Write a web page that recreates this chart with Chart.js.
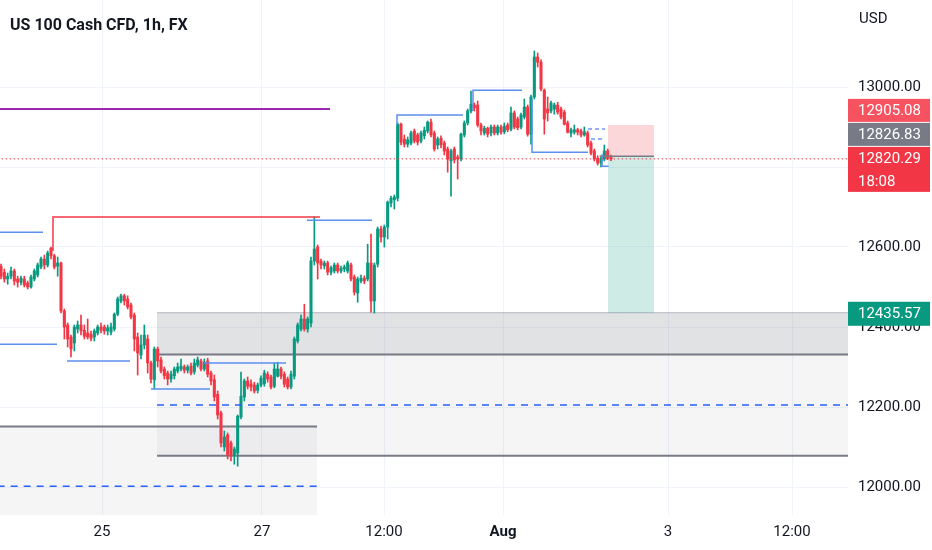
<!DOCTYPE html>
<html><head><meta charset="utf-8">
<script src="https://cdn.jsdelivr.net/npm/chart.js@4.4.1/dist/chart.umd.min.js"></script>
<style>
html,body{margin:0;padding:0;background:#fff;}
#wrap{position:relative;width:932px;height:550px;overflow:hidden;}
#title{position:absolute;left:10px;top:15px;font:bold 16px Roboto, sans-serif;color:#131722;white-space:nowrap;}
#usd{position:absolute;left:859px;top:9px;font:15px Roboto, sans-serif;color:#131722;}
</style></head><body>
<div id="wrap"><canvas id="c"></canvas><div id="title">US 100 Cash CFD, 1h, FX</div><div id="usd">USD</div></div>
<script>
// ---- candle data (hourly bars, index = bar number) ----
const opens = [
12552,12537,12520,12527,12540,12520,12512,12520,12510,12500,
12520,12530,12550,12570,12555,12597,12578,12552,12560,12440,
12405,12375,12360,12395,12405,12392,12385,12382,12375,12385,
12400,12400,12390,12387,12395,12432,12465,12478,12470,12455,
12430,12375,12330,12355,12370,12310,12268,12345,12318,12295,
12285,12270,12278,12290,12295,12300,12292,12302,12288,12305,
12315,12295,12315,12285,12268,12232,12185,12100,12130,12110,
12080,12085,12175,12225,12265,12258,12255,12242,12255,12258,
12282,12275,12252,12277,12295,12282,12270,12250,12277,12365,
12395,12420,12395,12410,12565,12600,12565,12553,12560,12537,
12540,12555,12540,12545,12540,12555,12525,12485,12515,12522,
12520,12560,12465,12557,12645,12625,12650,12710,12718,12722,
12907,12870,12857,12860,12890,12880,12865,12878,12890,12912,
12885,12855,12872,12860,12845,12815,12845,12825,12820,12880,
12910,12940,12955,12955,12905,12885,12897,12885,12900,12885,
12900,12888,12905,12895,12935,12920,12900,12925,12950,12882,
12975,13075,13062,12992,12945,12940,12945,12955,12945,12937,
12910,12885,12887,12893,12890,12880,12885,12860,12840,12822,
12810,12820,12840,12826];
const highs = [
12557,12545,12535,12550,12545,12527,12527,12527,12515,12530,
12545,12560,12575,12580,12590,12600,12582,12575,12562,12445,
12410,12380,12405,12415,12430,12405,12420,12390,12395,12405,
12410,12405,12405,12410,12435,12475,12482,12482,12478,12460,
12435,12385,12380,12405,12380,12315,12350,12350,12325,12300,
12290,12290,12300,12310,12320,12305,12305,12310,12320,12325,
12320,12320,12322,12290,12280,12240,12190,12140,12135,12115,
12100,12180,12287,12270,12275,12268,12262,12260,12278,12292,
12288,12280,12310,12312,12300,12288,12275,12290,12375,12410,
12430,12457,12425,12575,12675,12605,12570,12565,12565,12552,
12560,12560,12552,12555,12565,12560,12530,12525,12530,12528,
12607,12632,12560,12650,12652,12655,12715,12727,12730,12910,
12910,12880,12875,12890,12895,12885,12890,12900,12915,12920,
12890,12875,12878,12865,12850,12845,12850,12830,12885,12915,
12945,12990,12960,12965,12910,12902,12900,12905,12905,12905,
12905,12910,12910,12950,12940,12925,12935,12970,12955,12980,
13090,13085,13068,12995,12975,12965,12960,12962,12950,12942,
12915,12897,12905,12897,12895,12900,12890,12865,12845,12828,
12827,12855,12845,12830];
const lows = [
12520,12512,12507,12520,12505,12500,12505,12500,12495,12497,
12515,12525,12545,12545,12550,12570,12545,12527,12435,12370,
12350,12325,12340,12385,12380,12370,12370,12365,12365,12380,
12385,12382,12380,12380,12390,12428,12460,12455,12445,12420,
12340,12280,12320,12345,12285,12260,12245,12300,12285,12270,
12255,12262,12270,12285,12290,12285,12285,12280,12282,12300,
12290,12290,12275,12255,12215,12170,12100,12090,12070,12065,
12057,12052,12170,12215,12245,12240,12235,12235,12250,12252,
12262,12245,12248,12275,12270,12250,12245,12245,12270,12360,
12390,12390,12387,12400,12555,12520,12545,12545,12530,12530,
12535,12535,12535,12538,12535,12515,12480,12462,12510,12508,
12515,12437,12435,12550,12612,12600,12620,12700,12695,12715,
12855,12850,12850,12855,12860,12855,12860,12870,12885,12875,
12840,12845,12848,12830,12787,12727,12810,12770,12815,12875,
12905,12935,12940,12900,12880,12880,12875,12878,12880,12880,
12882,12883,12888,12890,12895,12893,12895,12920,12877,12857,
12970,13050,12990,12882,12915,12935,12932,12932,12920,12905,
12885,12875,12882,12880,12875,12877,12850,12830,12815,12805,
12800,12815,12818,12816];
const closes = [
12527,12520,12527,12540,12515,12512,12522,12505,12500,12525,
12540,12555,12570,12555,12585,12578,12550,12560,12440,12400,
12370,12345,12400,12405,12390,12377,12375,12372,12390,12400,
12392,12390,12398,12400,12432,12470,12478,12465,12450,12425,
12370,12335,12355,12380,12310,12270,12345,12315,12290,12278,
12270,12282,12295,12300,12302,12292,12300,12285,12310,12318,
12295,12312,12282,12265,12225,12180,12110,12125,12080,12080,
12095,12177,12227,12265,12252,12250,12240,12255,12272,12285,
12270,12250,12295,12295,12277,12257,12250,12282,12370,12405,
12420,12395,12420,12565,12595,12560,12555,12560,12537,12548,
12555,12540,12547,12550,12560,12520,12487,12520,12522,12515,
12560,12465,12555,12645,12625,12650,12712,12722,12725,12907,
12862,12857,12868,12885,12865,12862,12885,12892,12912,12880,
12845,12870,12855,12840,12820,12840,12818,12820,12882,12910,
12940,12957,12948,12905,12890,12897,12882,12900,12885,12900,
12887,12902,12893,12935,12900,12898,12930,12950,12882,12975,
13075,13062,12995,12920,12935,12960,12955,12937,12925,12907,
12887,12893,12893,12887,12880,12888,12855,12835,12820,12810,
12822,12840,12822,12820.29];

// ---- axis ticks ----
const xTickPositions = [30.3, 78.3, 114.9, 150.6, 200.1, 237.3];
const xTickLabels = ['25', '27', '12:00', 'Aug', '3', '12:00'];
const yTicks = [12000, 12200, 12400, 12600, 12800, 13000];

// ---- price markers ----
const lastPrice = 12820.29;
const countdown = '18:08';
const entryPrice = 12826.83;
const stopPrice = 12905.08;
const targetPrice = 12435.57;
const positionRange = [182.1, 195.9];   // bar index span of the position tool

// ---- drawn levels: [price, fromBar, toBar] ----
const blueLevels = [
  [12637, -1, 12.6], [12357, -1, 16.8], [12315, 19.8, 38.7],
  [12245, 45.0, 62.7], [12310, 60.9, 85.5], [12667, 91.8, 111.3]
];
// step lines: [[bar, price], ...]
const blueSteps = [
  [[118.8, 12905], [118.8, 12930], [138.6, 12930]],
  [[141.6, 12940], [141.6, 12992], [156.3, 12992]],
  [[159.3, 12970], [159.3, 12837], [176.1, 12837]],
  [[180.3, 12832], [180.3, 12802], [182.3, 12802]]
];
const redStep = [[15.6, 12590], [15.6, 12675], [95.7, 12675]];
const purpleLevel = [12945, -1, 98.7];
const dashedLevels = [[12205, 46.8, 260], [12002, -1, 94.8]];
const smallDashed = [[12895, 176.1, 181.2], [12870, 177.0, 181.0]];
// zones: [topPrice, bottomPrice, fromBar, toBar]
const zones = [
  [12435.57, 12331, 46.8, 260],
  [12331, 12078, 46.8, 260],
  [12151, 11900, -1, 94.8]
];

// ---- styles ----
const UP = '#089981', DOWN = '#f23645';
const FONT = 'Roboto, sans-serif';
const zoneFill = ['rgba(120,123,134,0.22)', 'rgba(120,123,134,0.075)', 'rgba(120,123,134,0.075)'];

const bodies = opens.map((o, i) => ({x: i, y: [o, closes[i]]}));
const wicks = opens.map((o, i) => ({x: i, y: [lows[i], highs[i]]}));
const colors = opens.map((o, i) => closes[i] >= o ? UP : DOWN);

function lineDs(points, color, width, dash, order) {
  return {type: 'line', data: points.map(p => ({x: p[0], y: p[1]})), borderColor: color,
    borderWidth: width, borderDash: dash || [], pointRadius: 0, pointHitRadius: 0,
    fill: false, tension: 0, order: order == null ? 1 : order, borderCapStyle: 'butt'};
}
const levelDs = [];
blueLevels.forEach(l => levelDs.push(lineDs([[l[1], l[0]], [l[2], l[0]]], '#5b8ff0', 1.5)));
blueSteps.forEach(s => levelDs.push(lineDs(s, '#5b8ff0', 1.5)));
levelDs.push(lineDs(redStep, 'rgba(242,54,69,0.75)', 2));
levelDs.push(lineDs([[purpleLevel[1], purpleLevel[0]], [purpleLevel[2], purpleLevel[0]]], '#9c27b0', 2));
dashedLevels.forEach(l => levelDs.push(lineDs([[l[1], l[0]], [l[2], l[0]]], '#2962ff', 1.5, [7, 6])));
smallDashed.forEach(l => levelDs.push(lineDs([[l[1], l[0]], [l[2], l[0]]], '#2962ff', 1.2, [4, 3])));
levelDs.push(lineDs([[positionRange[0] - 2.5, entryPrice], [positionRange[1], entryPrice]], '#787b86', 1.5));
levelDs.push(lineDs([[-1, lastPrice], [260, lastPrice]], '#f23645', 1, [1.5, 2.5], 0));

const zonePlugin = {
  id: 'zones',
  beforeDatasetsDraw(chart) {
    const {ctx, chartArea: a, scales: {x, y}} = chart;
    ctx.save();
    ctx.beginPath(); ctx.rect(a.left, a.top, a.width, a.height); ctx.clip();
    zones.forEach((z, k) => {
      const x0 = x.getPixelForValue(z[2]), x1 = x.getPixelForValue(z[3]);
      const y0 = y.getPixelForValue(z[0]), y1 = y.getPixelForValue(z[1]);
      ctx.fillStyle = zoneFill[k];
      ctx.fillRect(x0, y0, x1 - x0, y1 - y0);
    });
    // zone edges
    const edge = (p, b0, b1, col, w) => {
      ctx.strokeStyle = col; ctx.lineWidth = w; ctx.beginPath();
      const yy = y.getPixelForValue(p);
      ctx.moveTo(x.getPixelForValue(b0), yy); ctx.lineTo(x.getPixelForValue(b1), yy); ctx.stroke();
    };
    edge(zones[0][0], zones[0][2], zones[0][3], '#b2b5be', 1);
    edge(zones[0][1], zones[0][2], zones[0][3], '#787b86', 2);
    edge(zones[1][1], zones[1][2], zones[1][3], '#787b86', 2);
    edge(zones[2][0], zones[2][2], zones[2][3], '#787b86', 2);
    // position tool
    const px0 = x.getPixelForValue(positionRange[0]), px1 = x.getPixelForValue(positionRange[1]);
    const ys = y.getPixelForValue(stopPrice), ye = y.getPixelForValue(entryPrice), yt = y.getPixelForValue(targetPrice);
    ctx.fillStyle = 'rgba(242,54,69,0.2)';
    ctx.fillRect(px0, ys, px1 - px0, ye - ys);
    ctx.fillStyle = 'rgba(8,153,129,0.2)';
    ctx.fillRect(px0, ye, px1 - px0, yt - ye);
    ctx.restore();
  },
  afterDraw(chart) {
    const {ctx, scales: {y}} = chart;
    const left = y.left, w = chart.width - y.left - 2;
    ctx.save();
    ctx.font = '15px ' + FONT;
    ctx.textBaseline = 'middle';
    ctx.textAlign = 'left';
    const box = (top, h, bg, lines) => {
      ctx.fillStyle = bg; ctx.fillRect(left, top, w, h);
      ctx.fillStyle = '#ffffff';
      lines.forEach((t, k) => ctx.fillText(t, left + 10, top + 12 + k * 23));
    };
    const yl = y.getPixelForValue(lastPrice);
    const t3 = yl - 12;
    box(t3, 45, '#f23645', [lastPrice.toFixed(2), countdown]);
    box(t3 - 24, 23, '#787b86', [entryPrice.toFixed(2)]);
    box(t3 - 48, 23, '#f7525f', [stopPrice.toFixed(2)]);
    const yt = y.getPixelForValue(targetPrice);
    box(yt - 11, 24, '#089981', [targetPrice.toFixed(2)]);
    ctx.restore();
  }
};

new Chart(document.getElementById('c'), {
  type: 'bar',
  data: {
    datasets: [
      {type: 'bar', data: wicks, backgroundColor: colors, barThickness: 1, grouped: false, order: 3},
      {type: 'bar', data: bodies, backgroundColor: colors, barThickness: 2.4, minBarLength: 1, grouped: false, order: 2},
      ...levelDs
    ]
  },
  options: {
    responsive: true, maintainAspectRatio: false, animation: false,
    layout: {padding: 0},
    plugins: {legend: {display: false}, tooltip: {enabled: false}, title: {display: false}},
    scales: {
      x: {
        type: 'linear', min: -0.3, max: 254.1, offset: false,
        grid: {color: '#f0f3fa', drawTicks: false, offset: false},
        border: {display: false},
        ticks: {
          autoSkip: false, maxRotation: 0, padding: 8, color: '#131722',
          font: (c) => ({family: FONT, size: 15, weight: c.index === 3 ? 'bold' : 'normal'}),
          callback: (v, i) => xTickLabels[i]
        },
        afterBuildTicks: (s) => { s.ticks = xTickPositions.map(v => ({value: v})); },
        afterFit: (s) => { s.height = 35; s.paddingLeft = 0; s.paddingRight = 0; s.paddingTop = 0; s.paddingBottom = 0; }
      },
      y: {
        type: 'linear', position: 'right', min: 11930, max: 13217.5,
        grid: {color: '#f0f3fa', drawTicks: false},
        border: {display: false},
        ticks: {padding: 10, color: '#131722', font: {family: FONT, size: 15},
          callback: (v) => Number(v).toFixed(2)},
        afterBuildTicks: (s) => { s.ticks = yTicks.map(v => ({value: v})); },
        afterFit: (s) => { s.width = 84; s.paddingTop = 0; s.paddingBottom = 0; s.paddingLeft = 0; s.paddingRight = 0; }
      }
    }
  },
  plugins: [zonePlugin]
});
</script>
</body></html>
